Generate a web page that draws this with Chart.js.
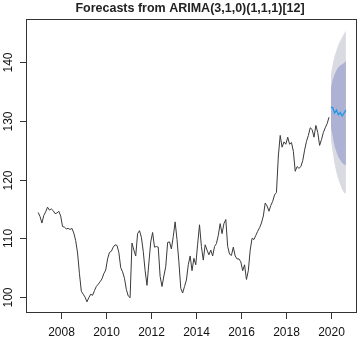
<!DOCTYPE html>
<html lang="en">
  <head>
    <meta charset="UTF-8" />
    <title>Forecasts from ARIMA</title>
    <script src="https://cdn.jsdelivr.net/npm/chart.js"></script>
    <style>
      body {
        margin: 0;
        background: #fff;
      }
      canvas {
        display: block;
      }
    </style>
  </head>
  <body>
    <canvas id="chart" width="360" height="338"></canvas>

    <script>
      const titleText = "Forecasts from ARIMA(3,1,0)(1,1,1)[12]";
      const startYear = 2007; // monthly, Jan 2007 .. Dec 2019

      const observed = [
        114.4, 113.7, 112.6, 113.9, 114.5, 115.3, 114.8, 115.0, 114.7, 114.2, 114.3, 114.6,
        113.8, 112.0, 111.9, 111.6, 111.7, 111.5, 111.7, 110.9, 109.6, 107.5, 104.0, 101.0,
        100.5, 100.0, 99.2, 99.9, 100.5, 100.3, 101.1, 101.8, 102.2, 102.6, 103.1, 104.0,
        104.6, 106.5, 107.6, 107.8, 108.5, 108.9, 108.8, 107.6, 105.0, 104.3, 103.2, 101.3,
        100.2, 99.9, 109.2, 108.0, 107.0, 110.8, 111.3, 110.2, 107.8, 104.5, 102.0, 105.8,
        109.4, 111.0, 108.5, 108.6, 108.5, 103.5, 101.8, 103.6, 105.2, 109.3, 109.4, 108.2,
        110.3, 112.8, 109.8, 106.0, 101.5, 100.7, 101.8, 102.9, 105.5, 107.0, 104.5, 106.6,
        105.5, 109.0, 112.3, 108.6, 106.3, 108.9, 108.0, 107.2, 108.0, 107.0, 108.6, 109.1,
        110.5, 112.5, 110.8, 112.5, 113.2, 108.6, 107.3, 107.1, 108.5, 107.0, 106.5, 106.5,
        106.0, 104.5, 105.5, 103.0, 104.5, 108.0, 110.0, 109.8, 110.5, 111.2, 111.8, 112.6,
        113.8, 116.0, 115.5, 114.6, 115.6, 116.3, 117.4, 117.8, 124.0, 127.5, 125.5, 126.4,
        126.0, 127.2, 126.0, 126.3, 124.8, 121.4, 122.2, 121.9, 122.2, 123.2, 125.0, 126.5,
        127.5, 128.8, 128.5, 127.2, 129.2, 128.0, 125.8, 126.8, 128.0, 128.8, 129.5, 130.6,
      ];

      // Jan 2020 .. Sep 2020
      const forecastMean = [132.3, 132.2, 131.3, 131.8, 131.0, 131.4, 130.8, 131.3, 131.8];
      const upper80 = [135.6, 137.0, 137.9, 138.6, 139.1, 139.4, 139.6, 139.8, 140.2];
      const lower80 = [128.8, 127.3, 125.6, 124.7, 123.8, 123.3, 122.8, 122.6, 122.4];
      const upper95 = [137.8, 139.6, 141.0, 142.0, 142.9, 143.6, 144.2, 144.8, 145.3];
      const lower95 = [126.8, 124.6, 122.6, 121.1, 120.0, 119.1, 118.3, 117.8, 117.6];

      const xTicks = [2008, 2010, 2012, 2014, 2016, 2018, 2020];
      const yTicks = [100, 110, 120, 130, 140];

      const obsPoints = observed.map((v, i) => ({ x: startYear + i / 12, y: v }));
      const fcX = (i) => startYear + (observed.length + i) / 12;
      const toPoints = (arr) => arr.map((v, i) => ({ x: fcX(i), y: v }));

      // R-style box, ticks and labels
      const baseAxes = {
        id: "baseAxes",
        afterDraw(chart) {
          const { ctx, chartArea: a } = chart;
          const xs = chart.scales.x;
          const ys = chart.scales.y;
          ctx.save();
          ctx.strokeStyle = "#333";
          ctx.lineWidth = 1;
          ctx.strokeRect(a.left + 0.5, a.top + 0.5, a.right - a.left - 1, a.bottom - a.top - 1);

          ctx.fillStyle = "#111";
          ctx.font = "12px 'Liberation Sans', Arial, sans-serif";
          ctx.textAlign = "center";
          ctx.textBaseline = "middle";
          xTicks.forEach((t) => {
            const px = Math.round(xs.getPixelForValue(t)) + 0.5;
            ctx.beginPath();
            ctx.moveTo(px, a.bottom);
            ctx.lineTo(px, a.bottom + 6);
            ctx.stroke();
            ctx.fillText(String(t), px, a.bottom + 20);
          });
          yTicks.forEach((t) => {
            const py = Math.round(ys.getPixelForValue(t)) + 0.5;
            ctx.beginPath();
            ctx.moveTo(a.left, py);
            ctx.lineTo(a.left - 6, py);
            ctx.stroke();
            ctx.save();
            ctx.translate(a.left - 17, py);
            ctx.rotate(-Math.PI / 2);
            ctx.fillText(String(t), 0, 0);
            ctx.restore();
          });

          ctx.font = "bold 12.5px 'Liberation Sans', Arial, sans-serif";
          ctx.fillStyle = "#222";
          ctx.fillText(titleText, 190, 9);
          ctx.restore();
        },
      };

      new Chart(document.getElementById("chart"), {
        type: "line",
        data: {
          datasets: [
            {
              data: obsPoints,
              borderColor: "#3a3a3a",
              borderWidth: 1,
              pointRadius: 0,
              fill: false,
            },
            {
              data: toPoints(forecastMean),
              borderColor: "#2297E6",
              borderWidth: 1.3,
              pointRadius: 0,
              fill: false,
            },
            {
              data: toPoints(upper80),
              borderWidth: 0,
              pointRadius: 0,
              backgroundColor: "#adb2d4",
              fill: "+1",
            },
            {
              data: toPoints(lower80),
              borderWidth: 0,
              pointRadius: 0,
              fill: false,
            },
            {
              data: toPoints(upper95),
              borderWidth: 0,
              pointRadius: 0,
              backgroundColor: "#dadae2",
              fill: "+1",
            },
            {
              data: toPoints(lower95),
              borderWidth: 0,
              pointRadius: 0,
              fill: false,
            },
          ],
        },
        options: {
          responsive: false,
          animation: false,
          layout: { padding: { left: 26, right: 3, top: 19, bottom: 25 } },
          plugins: {
            legend: { display: false },
            tooltip: { enabled: false },
            title: { display: false },
          },
          scales: {
            x: { type: "linear", min: 2006.46, max: 2021.16, display: false },
            y: { type: "linear", min: 97.3, max: 147.3, display: false },
          },
        },
        plugins: [baseAxes],
      });
    </script>
  </body>
</html>
